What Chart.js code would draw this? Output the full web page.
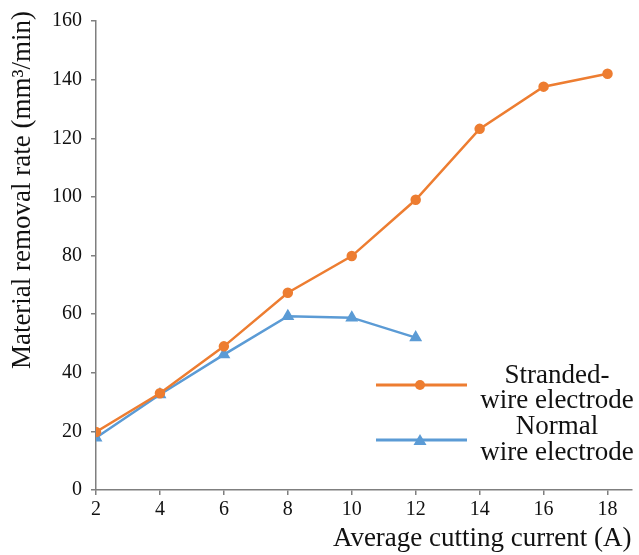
<!DOCTYPE html>
<html>
<head>
<meta charset="utf-8">
<script src="https://cdn.jsdelivr.net/npm/chart.js@4.4.1/dist/chart.umd.min.js"></script>
<style>
  html, body { margin: 0; padding: 0; background: #fff; }
  #wrap { width: 639px; height: 555px; }
</style>
</head>
<body>
<div id="wrap"><canvas id="mrr" width="639" height="555"></canvas></div>
<script>
// values
const currents = [2, 4, 6, 8, 10, 12, 14, 16, 18]
const strandedMRR = [19.8, 33.0, 49.0, 67.3, 79.8, 99.0, 123.2, 137.6, 142.0]
const normalCurrents = [2, 4, 6, 8, 10, 12]
const normalMRR = [17.8, 32.6, 46.2, 59.3, 58.8, 52.0]
const legendLines = [['Stranded-', 'wire electrode'], ['Normal', 'wire electrode']]
const yTitle = 'Material removal rate (mm³/min)'

const orange = '#ED7D31'
const blue = '#5B9BD5'
const axisGray = '#7f7f7f'
const serif = '"Liberation Serif", "Times New Roman", serif'

//legend is 2-line text with line+marker sample, easier to draw by hand
//y title too, since in the figure it sits higher than the plot centre
const legendPlugin = {
  id: 'twoLineLegend',
  afterDraw(chart) {
    const ctx = chart.ctx
    const sets = chart.data.datasets
    const rows = [{ y: 385, ty: [376, 401] }, { y: 440, ty: [427, 453] }]
    rows.forEach((r, i) => {
      const ds = sets[i]
      ctx.save()
      ctx.strokeStyle = ds.borderColor
      ctx.lineWidth = 3
      ctx.beginPath()
      ctx.moveTo(376, r.y)
      ctx.lineTo(467, r.y)
      ctx.stroke()
      ctx.fillStyle = ds.borderColor
      ctx.beginPath()
      if (ds.pointStyle === 'triangle') {
        ctx.moveTo(420, r.y - 6)
        ctx.lineTo(426.5, r.y + 5)
        ctx.lineTo(413.5, r.y + 5)
        ctx.closePath()
      } else {
        ctx.arc(420, r.y, 5, 0, Math.PI * 2)
      }
      ctx.fill()
      ctx.fillStyle = '#111'
      ctx.font = '27px ' + serif
      ctx.textAlign = 'center'
      ctx.textBaseline = 'middle'
      legendLines[i].forEach((t, k) => ctx.fillText(t, 557, r.ty[k]))
      ctx.restore()
    })
    ctx.save()
    ctx.translate(23, 190)
    ctx.rotate(-Math.PI / 2)
    ctx.fillStyle = '#111'
    ctx.font = '27px ' + serif
    ctx.textAlign = 'center'
    ctx.textBaseline = 'middle'
    ctx.fillText(yTitle, 0, 0)
    ctx.restore()
  }
}

new Chart(document.getElementById('mrr').getContext('2d'), {
  type: 'line',
  data: {
    datasets: [
      {
        label: 'Stranded-wire electrode',
        data: currents.map((x, i) => ({ x: x, y: strandedMRR[i] })),
        borderColor: orange,
        backgroundColor: orange,
        borderWidth: 2.5,
        pointStyle: 'circle',
        pointRadius: 4,
        tension: 0
      },
      {
        label: 'Normal wire electrode',
        data: normalCurrents.map((x, i) => ({ x: x, y: normalMRR[i] })),
        borderColor: blue,
        backgroundColor: blue,
        borderWidth: 2.5,
        pointStyle: 'triangle',
        pointRadius: 5,
        tension: 0
      }
    ]
  },
  options: {
    responsive: false,
    animation: false,
    layout: { padding: { left: 0, right: 0, top: 17, bottom: 0 } },
    plugins: { legend: { display: false }, tooltip: { enabled: false } },
    scales: {
      x: {
        type: 'linear',
        min: 2,
        max: 18.75,
        afterBuildTicks: axis => { axis.ticks = currents.map(v => ({ value: v })) },
        ticks: { stepSize: 2, color: '#111', font: { family: serif, size: 20 }, padding: 3, maxRotation: 0 },
        border: { color: axisGray, width: 1.5 },
        grid: { drawOnChartArea: false, tickLength: 5, color: axisGray, lineWidth: 1.5 },
        title: { display: true, text: 'Average cutting current (A)', align: 'end', color: '#111', font: { family: serif, size: 27 }, padding: { top: 0, bottom: 0 } },
        afterFit: axis => { axis.height = 65 }
      },
      y: {
        min: 0,
        max: 160,
        ticks: { stepSize: 20, color: '#111', font: { family: serif, size: 20 }, padding: 9 },
        border: { color: axisGray, width: 1.5 },
        grid: { drawOnChartArea: false, tickLength: 5, color: axisGray, lineWidth: 1.5 },
        afterFit: axis => { axis.width = 96 }
      }
    }
  },
  plugins: [legendPlugin]
})
</script>
</body>
</html>
